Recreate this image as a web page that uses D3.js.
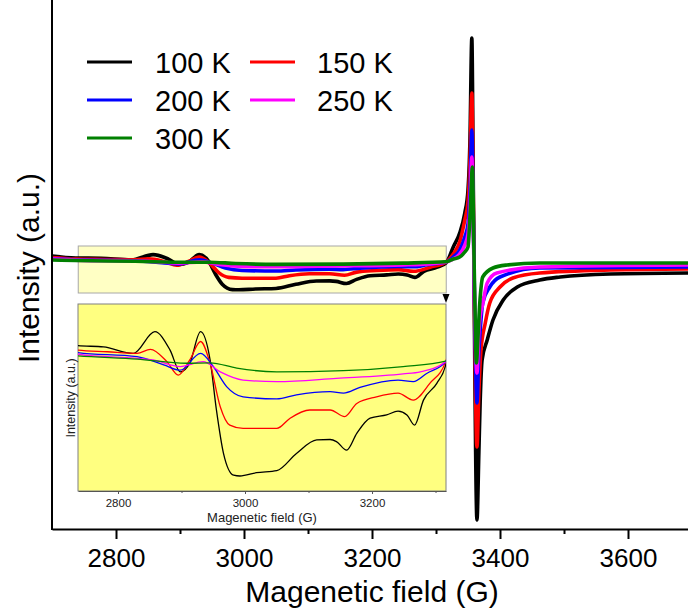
<!DOCTYPE html>
<html><head><meta charset="utf-8">
<script src="https://cdn.jsdelivr.net/npm/d3@7"></script>
<style>body{margin:0;background:#fff}svg{display:block;font-family:"Liberation Sans",Arial,sans-serif}</style>
</head><body><svg id="c" width="688" height="614"></svg>
<script>
// ---- data (field in G, intensity in a.u.) ----
const seriesLabels = ["100 K", "150 K", "200 K", "250 K", "300 K"];
const seriesColors = ["#000000", "#ff0000", "#0000ff", "#ff00ff", "#008000"];
const k100 = [[2700,0.06],[2737,0.040],[2777,0.037],[2824,0.021],[2858,0.074],[2882,0.029],[2898,-0.024],[2913,-0.003],[2930,0.074],[2945,0.005],[2955,-0.117],[2966,-0.222],[2982,-0.276],[2992,-0.278],[3018,-0.270],[3050,-0.265],[3081,-0.223],[3113,-0.190],[3134,-0.189],[3144,-0.194],[3160,-0.215],[3176,-0.174],[3197,-0.137],[3223,-0.129],[3241,-0.120],[3255,-0.129],[3267,-0.154],[3281,-0.093],[3302,-0.052],[3316,-0.007],[3327,0.15],[3337,0.29],[3345,0.49],[3350,0.72],[3353,1.2],[3356,2.24],[3358,1.0],[3360,-0.6],[3364,-2.58],[3367,-1.9],[3369,-1.4],[3372,-0.98],[3380,-0.78],[3389,-0.58],[3405,-0.38],[3427,-0.25],[3462,-0.18],[3494,-0.15],[3572,-0.12],[3700,-0.11]];
const k150 = [[2700,0.045],[2737,0.029],[2783,0.025],[2830,0.021],[2851,0.031],[2877,0.001],[2895,-0.032],[2913,0.005],[2930,0.050],[2945,-0.003],[2961,-0.109],[2976,-0.154],[2997,-0.162],[3050,-0.162],[3071,-0.137],[3102,-0.117],[3134,-0.117],[3157,-0.133],[3176,-0.101],[3207,-0.085],[3241,-0.076],[3265,-0.093],[3291,-0.052],[3316,0.001],[3327,0.08],[3337,0.20],[3345,0.42],[3350,0.6],[3353,1.0],[3356,1.69],[3358,0.8],[3360,-0.4],[3364,-1.85],[3367,-1.3],[3370,-0.9],[3377,-0.61],[3384,-0.41],[3400,-0.25],[3420,-0.16],[3462,-0.11],[3572,-0.08],[3700,-0.07]];
const k200 = [[2700,0.035],[2737,0.023],[2830,0.013],[2872,-0.007],[2898,-0.020],[2930,0.021],[2950,-0.011],[2971,-0.060],[2997,-0.085],[3050,-0.090],[3081,-0.080],[3134,-0.072],[3155,-0.076],[3181,-0.062],[3241,-0.044],[3265,-0.048],[3286,-0.028],[3316,0.001],[3327,0.05],[3337,0.12],[3345,0.25],[3350,0.38],[3353,0.7],[3356,1.32],[3358,0.6],[3360,-0.3],[3364,-1.41],[3367,-0.9],[3370,-0.6],[3373,-0.41],[3384,-0.25],[3400,-0.15],[3462,-0.06],[3700,-0.05]];
const k250 = [[2700,0.03],[2737,0.019],[2855,0.005],[2898,-0.011],[2934,0.001],[2961,-0.024],[2997,-0.044],[3050,-0.048],[3144,-0.040],[3249,-0.029],[3276,-0.024],[3316,0.001],[3327,0.03],[3337,0.08],[3345,0.17],[3350,0.28],[3353,0.55],[3356,1.05],[3358,0.45],[3360,-0.3],[3364,-1.11],[3367,-0.7],[3370,-0.5],[3372,-0.45],[3380,-0.21],[3395,-0.11],[3462,-0.05],[3700,-0.03]];
const k300 = [[2700,0.02],[2737,0.015],[2830,0.007],[2908,-0.003],[2945,-0.002],[2987,-0.015],[3050,-0.024],[3155,-0.021],[3249,-0.011],[3316,0.002],[3327,0.03],[3337,0.05],[3345,0.1],[3350,0.15],[3353,0.45],[3357,0.95],[3359,0.2],[3361,-0.5],[3363,-1.01],[3366,-0.7],[3368,-0.45],[3370,-0.28],[3373,-0.15],[3389,-0.06],[3411,-0.03],[3462,-0.01],[3700,-0.01]];
const mainTicks = [2800, 3000, 3200, 3400, 3600];
const mainMinor = [2900, 3100, 3300, 3500];
const insetTicks = [2800, 3000, 3200];
const insetMinor = [2900, 3100, 3300];
const xTitle = "Magenetic field (G)";
const yTitle = "Intensity (a.u.)";

const allSeries = [k100, k150, k200, k250, k300];

const svg = d3.select("#c");
const F = '"Liberation Sans",Arial,sans-serif';

// ---- main scales ----
const x = d3.scaleLinear().domain([2700, 3700]).range([52, 692]);
const y = d3.scaleLinear().domain([-2.67, 2.62]).range([529, 0]);

// ---- inset scales ----
const xi = d3.scaleLinear().domain([2737, 3316.5]).range([78, 446]);
const yi = d3.scaleLinear().domain([-0.3146, 0.1415]).range([491, 304]);

const defs = svg.append("defs");
defs.append("clipPath").attr("id", "mclip").append("rect").attr("x", 52).attr("y", 0).attr("width", 636).attr("height", 529);
defs.append("clipPath").attr("id", "iclip").append("rect").attr("x", 78).attr("y", 304).attr("width", 368).attr("height", 187);

// highlight rectangle on main plot
svg.append("rect").attr("x", x(2741)).attr("y", 246).attr("width", x(3316) - x(2741)).attr("height", 47)
  .attr("fill", "#ffffc4").attr("stroke", "#a8a8a8").attr("stroke-width", 1);

// arrow
svg.append("path").attr("d", "M442.5,294 L449.5,294 L446,303 Z").attr("fill", "#000");

// inset
svg.append("rect").attr("x", 78).attr("y", 304).attr("width", 368).attr("height", 187)
  .attr("fill", "#ffff80").attr("stroke", "#808080").attr("stroke-width", 1);

const lineI = d3.line().x(d => xi(d[0])).y(d => yi(d[1])).curve(d3.curveMonotoneX);
const gi = svg.append("g").attr("clip-path", "url(#iclip)");
allSeries.forEach((s, i) => {
  const sub = s.filter(d => d[0] <= 3330);
  gi.append("path").attr("d", lineI(sub)).attr("fill", "none")
    .attr("stroke", seriesColors[i]).attr("stroke-width", 1.3).attr("stroke-linejoin", "round");
});

const ia = svg.append("g").attr("transform", "translate(0,491)")
  .call(d3.axisBottom(xi).tickValues(insetTicks).tickSize(3).tickSizeOuter(0).tickPadding(5).tickFormat(d3.format("d")));
ia.select(".domain").attr("stroke", "#555");
ia.selectAll(".tick line").attr("stroke", "#555");
ia.selectAll("text").attr("font-size", 11.5).attr("font-family", F).attr("fill", "#222");
const iam = svg.append("g").attr("transform", "translate(0,491)")
  .call(d3.axisBottom(xi).tickValues(insetMinor).tickSize(2).tickSizeOuter(0).tickFormat(""));
iam.select(".domain").remove();
iam.selectAll(".tick line").attr("stroke", "#555");

svg.append("text").attr("x", 262).attr("y", 521.5).attr("text-anchor", "middle")
  .attr("font-size", 13).attr("fill", "#222").text(xTitle);
svg.append("text").attr("transform", "translate(71,398) rotate(-90)").attr("text-anchor", "middle")
  .attr("dy", "0.35em").attr("font-size", 12.5).attr("fill", "#222").text(yTitle);

// ---- main lines ----
const lineM = d3.line().x(d => x(d[0])).y(d => y(d[1])).curve(d3.curveMonotoneX);
const gm = svg.append("g").attr("clip-path", "url(#mclip)");
allSeries.forEach((s, i) => {
  gm.append("path").attr("d", lineM(s)).attr("fill", "none")
    .attr("stroke", seriesColors[i]).attr("stroke-width", 3.6).attr("stroke-linejoin", "round");
});

// ---- main axes ----
const xa = svg.append("g").attr("transform", "translate(0,529)")
  .call(d3.axisBottom(x).tickValues(mainTicks).tickSize(10).tickSizeOuter(0).tickPadding(10).tickFormat(d3.format("d")));
xa.select(".domain").attr("stroke-width", 2);
xa.selectAll(".tick line").attr("stroke-width", 2);
xa.selectAll("text").attr("font-size", 26).attr("font-family", F).attr("fill", "#000");
const xm = svg.append("g").attr("transform", "translate(0,529)")
  .call(d3.axisBottom(x).tickValues(mainMinor).tickSize(5).tickSizeOuter(0).tickFormat(""));
xm.select(".domain").remove();
xm.selectAll(".tick line").attr("stroke-width", 2);

svg.append("line").attr("x1", 52).attr("x2", 52).attr("y1", 0).attr("y2", 530)
  .attr("stroke", "#000").attr("stroke-width", 2);

svg.append("text").attr("x", 372).attr("y", 602).attr("text-anchor", "middle")
  .attr("font-size", 30).attr("fill", "#000").text(xTitle);
svg.append("text").attr("transform", "translate(28,268) rotate(-90)").attr("text-anchor", "middle")
  .attr("dy", "0.35em").attr("font-size", 30).attr("fill", "#000").text(yTitle);

// ---- legend ----
const legCols = [[87, 155], [250, 317]];
const legRows = [62, 100, 138];
seriesLabels.forEach((lab, i) => {
  const c = legCols[i % 2], r = legRows[Math.floor(i / 2)];
  svg.append("line").attr("x1", c[0]).attr("x2", c[0] + 45).attr("y1", r).attr("y2", r)
    .attr("stroke", seriesColors[i]).attr("stroke-width", 3);
  svg.append("text").attr("x", c[1]).attr("y", r + 10.5).attr("font-size", 29).attr("fill", "#000").text(lab);
});
</script></body></html>
